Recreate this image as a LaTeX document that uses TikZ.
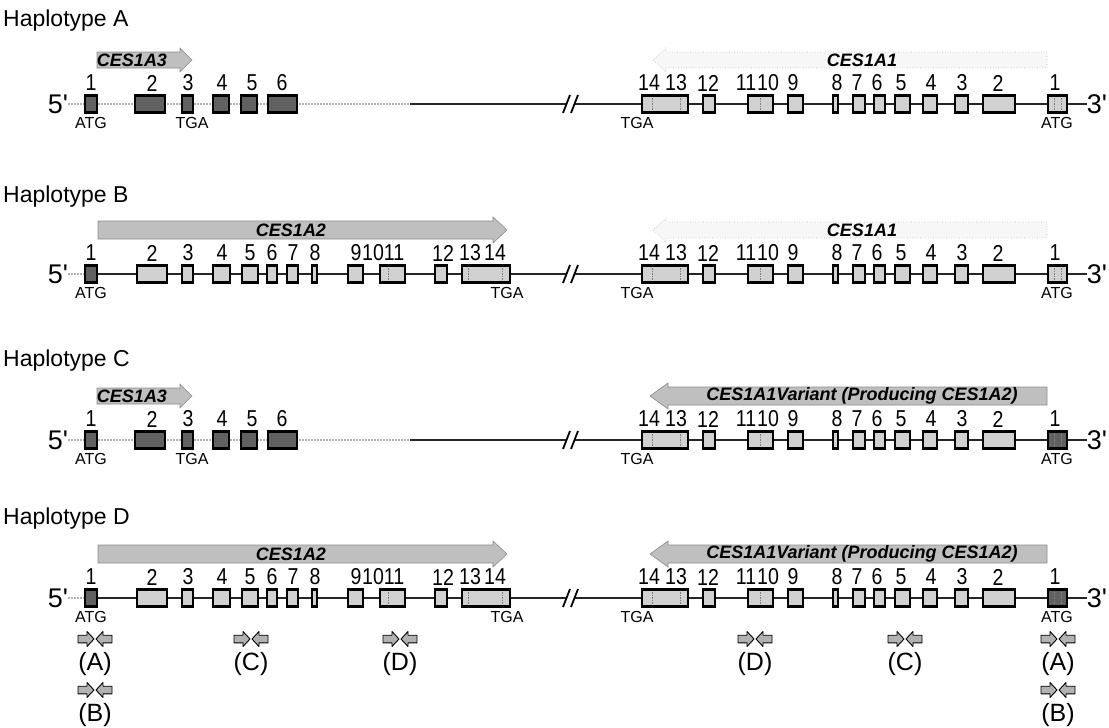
\documentclass[tikz,border=0pt]{standalone}
\usepackage{fontspec}
\setmainfont{Liberation Sans}
\newfontfamily\narrowsans[FakeStretch=0.85]{Liberation Sans}
\usetikzlibrary{positioning, calc, backgrounds}

\begin{document}
\begin{tikzpicture}[
    x=1pt, y=-1pt,
    exon/.style={draw, line width=2.4pt, fill=black!18, minimum height=17pt, inner sep=0pt},
    exdark/.style={exon, fill=black!62},
    seam/.style={black!50, line width=0.8pt, dash pattern=on 1.5pt off 1pt},
    num/.style={inner sep=0pt, font=\narrowsans\fontsize{23}{23}\selectfont},
    codon/.style={inner sep=0pt, font=\fontsize{16}{16}\selectfont},
    prime/.style={inner sep=0pt, font=\fontsize{27}{27}\selectfont},
    haplo/.style={anchor=west, inner sep=0pt, font=\fontsize{23}{23}\selectfont},
    gene/.style={fill=black!25, draw=black!45, line width=0.6pt},
    faint/.style={fill=black!3, draw=black!28, line width=0.6pt, dotted},
    genelbl/.style={inner sep=0pt, font=\bfseries\itshape\fontsize{18}{18}\selectfont},
    dna/.style={line width=2.3pt, black!85},
    dnagray/.style={line width=2.3pt, black!30, dash pattern=on 2pt off 1pt},
    slash/.style={line width=1.8pt},
    prim/.style={fill=black!30, draw=black, line width=0.9pt, line join=round},
    plabel/.style={inner sep=0pt, font=\fontsize{25}{25}\selectfont},
    primers/.pic={
      \filldraw[prim] (-1,0) -- (-8,-7.5) -- (-8,-3.8) -- (-17,-3.8) -- (-17,3.8) -- (-8,3.8) -- (-8,7.5) -- cycle;
      \filldraw[prim] (1,0) -- (8,-7.5) -- (8,-3.8) -- (17,-3.8) -- (17,3.8) -- (8,3.8) -- (8,7.5) -- cycle;
    }
  ]
  \useasboundingbox (0,0) rectangle (1109,728);

  % haplotype titles
  \node[haplo] (hapA) at (3,21) {Haplotype A};
  \node[haplo] (hapB) at (3,197) {Haplotype B};
  \node[haplo] (hapC) at (3,361) {Haplotype C};
  \node[haplo] (hapD) at (3,519) {Haplotype D};

  % CES1A1 side (same in every row)
  \foreach \r/\ry/\fc in {A/104/black!18, B/274/black!18, C/440/black!62, D/598/black!62} {
    \node[prime] (p5\r) at (58,\ry) {5\textquotesingle};
    \node[prime] (p3\r) at (1097,\ry) {3\textquotesingle};
    \foreach \n/\cx/\w in {14/665/46, 12/709/12, 10/760.5/25, 9/795.5/15, 8/835.5/5, 7/859/12, 6/879.5/11, 5/902.5/15, 4/930/14, 3/961.5/13, 2/999/32}
      \node[exon, minimum width=\w] (R\r\n) at (\cx,\ry) {};
    \node[exon, fill=\fc, minimum width=19] (R\r1) at (1057.5,\ry) {};
    \foreach \n/\lx in {14/649, 13/676, 12/708, 11/746, 10/768, 9/793, 8/837, 7/857, 6/877, 5/901, 4/931, 3/962, 2/998, 1/1055}
      \node[num] (nR\r\n) at (\lx,\ry-21) {\n};
    \foreach \sx in {652, 680, 760, 1054, 1061}
      \draw[seam] (\sx,\ry-6) -- (\sx,\ry+6);
    \node[codon] (tgaR\r) at (637,\ry+19) {TGA};
    \node[codon] (atgR\r) at (1057,\ry+19) {ATG};
    \coordinate (brk\r) at (573,\ry);
  }

  % CES1A3 side
  \foreach \r/\ry in {A/104, C/440} {
    \foreach \n/\cx/\w in {1/91/12, 2/150/30, 3/187.5/11, 4/221/16, 5/249/16, 6/282.5/29}
      \node[exdark, minimum width=\w] (L\r\n) at (\cx,\ry) {};
    \foreach \n/\lx in {1/91, 2/152, 3/188, 4/222, 5/252, 6/282}
      \node[num] (nL\r\n) at (\lx,\ry-21) {\n};
    \node[codon] (atgL\r) at (91,\ry+19) {ATG};
    \node[codon] (tgaL\r) at (192,\ry+19) {TGA};
    \coordinate (sw\r) at (410,\ry);
    \filldraw[gene] (97,\ry-52) -- (180,\ry-52) -- (180,\ry-56) -- (192,\ry-44) -- (180,\ry-32) -- (180,\ry-36) -- (97,\ry-36) -- cycle;
    \node[genelbl] (gL\r) at (132,\ry-44) {CES1A3};
  }

  % CES1A2 side
  \foreach \r/\ry in {B/274, D/598} {
    \node[exdark, minimum width=12] (L\r1) at (91,\ry) {};
    \foreach \n/\cx/\w in {2/152/30, 3/187.5/11, 4/221.5/17, 5/250/16, 6/272/10, 7/292.5/11, 8/314.5/5, 9/355.5/15, 10/392.5/25, 12/441/12, 13/486/48}
      \node[exon, minimum width=\w] (L\r\n) at (\cx,\ry) {};
    \foreach \n/\lx in {1/91, 2/152, 3/188, 4/222, 5/250, 6/272, 7/293, 8/315, 9/356, 10/373, 11/394, 12/443, 13/470, 14/495}
      \node[num] (nL\r\n) at (\lx,\ry-21) {\n};
    \foreach \sx in {388, 468, 502}
      \draw[seam] (\sx,\ry-6) -- (\sx,\ry+6);
    \node[codon] (atgL\r) at (91,\ry+19) {ATG};
    \node[codon] (tgaL\r) at (507,\ry+19) {TGA};
    \coordinate (sw\r) at (L\r1.east);
    \filldraw[gene] (98,\ry-53) -- (493,\ry-53) -- (493,\ry-57) -- (507,\ry-44) -- (493,\ry-31) -- (493,\ry-35) -- (98,\ry-35) -- cycle;
    \node[genelbl] (gL\r) at (291,\ry-44) {CES1A2};
  }

  % CES1A1 gene arrows
  \foreach \r/\ry in {A/104, B/274} {
    \filldraw[faint] (1047,\ry-52) -- (666,\ry-52) -- (666,\ry-56) -- (653,\ry-44) -- (666,\ry-32) -- (666,\ry-36) -- (1047,\ry-36) -- cycle;
    \node[genelbl] (gR\r) at (862,\ry-44) {CES1A1};
  }
  \foreach \r/\ry in {C/440, D/598} {
    \filldraw[gene] (1047,\ry-53) -- (668,\ry-53) -- (668,\ry-57) -- (650,\ry-44) -- (668,\ry-31) -- (668,\ry-35) -- (1047,\ry-35) -- cycle;
    \node[genelbl] (gR\r) at (862,\ry-44) {CES1A1Variant (Producing CES1A2)};
  }

  % strands
  \begin{scope}[on background layer]
    \foreach \r in {A, B, C, D} {
      \draw[dnagray] (p5\r.east) -- (sw\r);
      \draw[dna] (sw\r) -- (p3\r.west);
    }
  \end{scope}
  \foreach \r in {A, B, C, D} {
    \fill[white] ($(brk\r)+(-10,9)$) -- ($(brk\r)+(-3,-9)$) -- ($(brk\r)+(5,-9)$) -- ($(brk\r)+(-2,9)$) -- cycle;
    \draw[slash] ($(brk\r)+(-10,9)$) -- ($(brk\r)+(-3,-9)$);
    \draw[slash] ($(brk\r)+(-2,9)$) -- ($(brk\r)+(5,-9)$);
  }

  % primer pairs
  \foreach \nm/\t/\px/\py in {Al/A/95/639, Bl/B/95/690, Cl/C/251/639, Dl/D/400/639, Dr/D/755/639, Cr/C/905/639, Ar/A/1058/639, Br/B/1058/690} {
    \pic at (\px,\py) {primers};
    \node[plabel] (pr\nm) at (\px,\py+25) {(\t)};
  }
\end{tikzpicture}
\end{document}
